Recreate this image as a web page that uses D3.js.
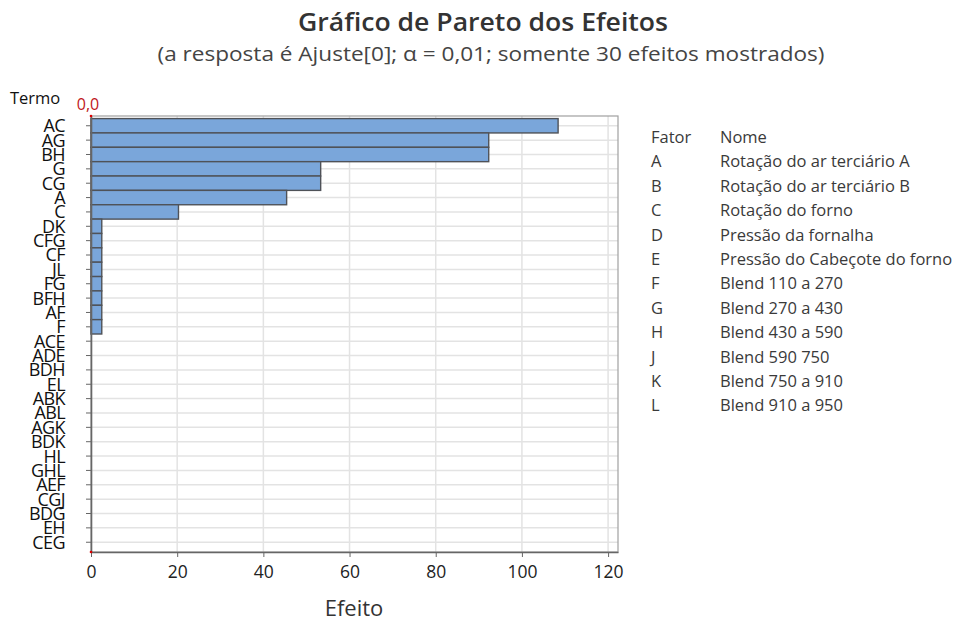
<!DOCTYPE html>
<html><head><meta charset="utf-8">
<script src="https://cdn.jsdelivr.net/npm/d3@7"></script>
<style>body{margin:0;background:#fff}svg{display:block}text{font-family:"Open Sans","Noto Sans",sans-serif}</style>
</head><body>
<script>
const terms = ["AC","AG","BH","G","CG","A","C","DK","CFG","CF","JL","FG","BFH","AF","F","ACE","ADE","BDH","EL","ABK","ABL","AGK","BDK","HL","GHL","AEF","CGJ","BDG","EH","CEG"];
const effects = [108.4,92.3,92.3,53.3,53.3,45.4,20.3,2.5,2.5,2.5,2.5,2.5,2.5,2.5,2.5,0,0,0,0,0,0,0,0,0,0,0,0,0,0,0];
const xTicks = [0,20,40,60,80,100,120];
const factorCodes = ["A","B","C","D","E","F","G","H","J","K","L"];
const factorNames = ["Rotação do ar terciário A","Rotação do ar terciário B","Rotação do forno","Pressão da fornalha","Pressão do Cabeçote do forno","Blend 110 a 270","Blend 270 a 430","Blend 430 a 590","Blend 590  750","Blend 750 a 910","Blend 910 a 950"];
const title = "Gráfico de Pareto dos Efeitos";
const subtitle = "(a resposta é Ajuste[0]; α = 0,01; somente 30 efeitos mostrados)";
const refValue = "0,0";

const W=965,H=622;
const m={l:91,r:618,t:116,b:552};
const svg=d3.select("body").append("svg").attr("width",W).attr("height",H);
const x=d3.scaleLinear().domain([0,122.3]).range([m.l,m.r]);
const y=d3.scaleBand().domain(terms).range([m.t,m.b]).paddingInner(0).paddingOuter(0.18);

svg.append("text").attr("x",483).attr("y",31).attr("text-anchor","middle").attr("font-size",26).attr("font-weight",600).attr("fill","#333").attr("textLength",370).attr("lengthAdjust","spacingAndGlyphs").text(title);
svg.append("text").attr("x",491).attr("y",61).attr("text-anchor","middle").attr("font-size",20.5).attr("fill","#444").attr("textLength",667).attr("lengthAdjust","spacingAndGlyphs").text(subtitle);

// grid
const g=svg.append("g");
g.selectAll("line.vg").data(xTicks.slice(1)).join("line").attr("x1",d=>x(d)).attr("x2",d=>x(d)).attr("y1",m.t).attr("y2",m.b).attr("stroke","#e3e3e3").attr("stroke-width",1.5);
g.selectAll("line.hg").data(terms).join("line").attr("x1",m.l).attr("x2",m.r).attr("y1",d=>y(d)+y.bandwidth()/2).attr("y2",d=>y(d)+y.bandwidth()/2).attr("stroke","#e3e3e3").attr("stroke-width",1.5);

// frame
svg.append("rect").attr("x",m.l).attr("y",m.t).attr("width",m.r-m.l).attr("height",m.b-m.t).attr("fill","none").attr("stroke","#a0a0a0").attr("stroke-width",1.2);

// bars
svg.selectAll("rect.bar").data(terms.map((t,i)=>({t,v:effects[i]})).filter(d=>d.v>0)).join("rect")
 .attr("x",x(0)).attr("y",d=>y(d.t)).attr("width",d=>x(d.v)-x(0)).attr("height",y.bandwidth())
 .attr("fill","#7aa6da").attr("stroke","#4f5258").attr("stroke-width",1.4);

// axes
const xa=svg.append("g").attr("transform",`translate(0,${m.b})`).call(d3.axisBottom(x).tickValues(xTicks).tickSize(5).tickSizeOuter(0));
xa.select(".domain").attr("stroke","#666").attr("stroke-width",1.3);
xa.selectAll(".tick line").attr("stroke","#666");
xa.selectAll("text").attr("font-size",17.5).attr("fill","#222").attr("y",14).attr("dy","0.71em");
const ya=svg.append("g").attr("transform",`translate(${m.l},0)`).call(d3.axisLeft(y).tickSize(5).tickSizeOuter(0));
ya.select(".domain").attr("stroke","#666").attr("stroke-width",1.6);
ya.selectAll(".tick line").attr("stroke","#666");
ya.selectAll("text").attr("font-size",18).attr("fill","#111").attr("x",-26).attr("dy","0.36em").attr("letter-spacing",-0.6);

svg.append("circle").attr("cx",m.l).attr("cy",m.t).attr("r",1.3).attr("fill","#d00");
svg.append("circle").attr("cx",m.l).attr("cy",m.b).attr("r",1.3).attr("fill","#d00");

svg.append("text").attr("x",10).attr("y",104).attr("font-size",16.5).attr("fill","#111").text("Termo");
svg.append("text").attr("x",88).attr("y",110).attr("text-anchor","middle").attr("font-size",16).attr("fill","#c0171b").text(refValue);
svg.append("text").attr("x",354).attr("y",616).attr("text-anchor","middle").attr("font-size",22).attr("fill","#333").text("Efeito");

// legend
const lg=svg.append("g").attr("font-size",16.5).attr("fill","#3a3a3a");
lg.append("text").attr("x",651).attr("y",143).text("Fator");
lg.append("text").attr("x",720).attr("y",143).text("Nome");
factorCodes.forEach((c,i)=>{
  const yy=143+24.4*(i+1);
  lg.append("text").attr("x",651).attr("y",yy).text(c);
  lg.append("text").attr("x",720).attr("y",yy).text(factorNames[i]);
});
</script>
</body></html>
